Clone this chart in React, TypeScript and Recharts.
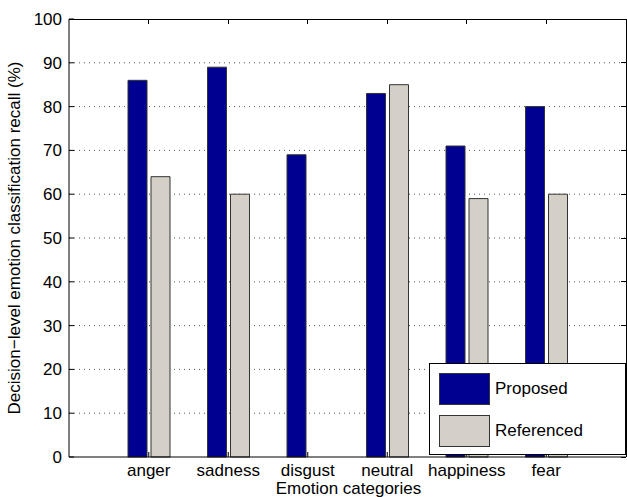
import React from "react";
import { BarChart, Bar, CartesianGrid, XAxis, YAxis } from "recharts";

const categories = ["anger", "sadness", "disgust", "neutral", "happiness", "fear"];
const proposed = [86, 89, 69, 83, 71, 80];
const referenced = [64, 60, 0, 85, 59, 60];
const yTicks = [0, 10, 20, 30, 40, 50, 60, 70, 80, 90, 100];
const seriesNames = ["Proposed", "Referenced"];

const data = categories.map((c, i) => ({
  category: c,
  proposed: proposed[i],
  referenced: referenced[i],
}));

const FONT = "'Liberation Sans', Arial, sans-serif";
const FS = 17;
const BLUE = "#000090";
const GRAY = "#D4D0C8";
const colors = [BLUE, GRAY];

// plot area (same numbers as the chart margins / axis sizes below)
const W = 627;
const H = 497;
const M = { top: 19, right: 1, left: 14, bottom: 0 };
const Y_AXIS_W = 55;
const X_AXIS_H = 40;
const X_PAD = 40;
const plotL = M.left + Y_AXIS_W;
const plotR = W - M.right;
const plotT = M.top;
const plotB = H - M.bottom - X_AXIS_H;

// top and right edges of the MATLAB box, with inward ticks (plain divs)
const Frame = () => {
  const band = (plotR - plotL - 2 * X_PAD) / categories.length;
  return (
    <div style={{ position: "absolute", left: 0, top: 0, width: W, height: H, pointerEvents: "none" }}>
      <div
        style={{
          position: "absolute",
          left: plotL,
          top: plotT - 0.5,
          width: plotR - plotL + 0.5,
          height: plotB - plotT + 0.5,
          borderTop: "1px solid #000",
          borderRight: "1px solid #000",
          boxSizing: "border-box",
        }}
      />
      {categories.map((c, i) => (
        <div
          key={c}
          style={{
            position: "absolute",
            left: plotL + X_PAD + band * (i + 0.5) - 0.5,
            top: plotT,
            width: 1,
            height: 5,
            background: "#000",
          }}
        />
      ))}
      {yTicks.map((v) => (
        <div
          key={v}
          style={{
            position: "absolute",
            left: plotR - 5,
            top: plotB - ((plotB - plotT) * v) / 100 - 0.5,
            width: 5,
            height: 1,
            background: "#000",
          }}
        />
      ))}
    </div>
  );
};

// MATLAB style legend box sitting over the lower right of the plot
const LegendBox = () => (
  <div
    style={{
      position: "absolute",
      left: 429,
      top: 363,
      width: 197,
      height: 92,
      border: "1px solid #000",
      background: "#fff",
      fontFamily: FONT,
      fontSize: FS,
      color: "#000",
      boxSizing: "border-box",
    }}
  >
    {seriesNames.map((name, i) => (
      <div
        key={name}
        style={{ position: "absolute", left: 9, top: 9 + i * 42, display: "flex", alignItems: "center" }}
      >
        <div
          style={{
            width: 51,
            height: 32,
            background: colors[i],
            border: "1px solid #333",
            boxSizing: "border-box",
          }}
        />
        <span style={{ marginLeft: 5 }}>{name}</span>
      </div>
    ))}
  </div>
);

const App = () => {
  return (
    <div style={{ position: "fixed", left: 0, top: 0, width: W, height: H, background: "#fff" }}>
      <BarChart width={W} height={H} data={data} margin={M} barSize={19} barGap={4}>
        <CartesianGrid
          vertical={false}
          horizontal
          stroke="#555"
          strokeDasharray="1 4"
          horizontalValues={[10, 20, 30, 40, 50, 60, 70, 80, 90]}
        />
        <XAxis
          dataKey="category"
          padding={{ left: X_PAD, right: X_PAD }}
          tickSize={-5}
          tickMargin={12}
          axisLine={{ stroke: "#000" }}
          tickLine={{ stroke: "#000" }}
          tick={{ fill: "#000", fontSize: FS, fontFamily: FONT }}
          height={X_AXIS_H}
          interval={0}
          label={{
            content: ({ viewBox }: any) => (
              <text
                x={viewBox.x + viewBox.width / 2 + 1}
                y={488}
                textAnchor="middle"
                dominantBaseline="central"
                fontSize={FS}
                fontFamily={FONT}
                fill="#000"
              >
                Emotion categories
              </text>
            ),
          }}
        />
        <YAxis
          domain={[0, 100]}
          ticks={yTicks}
          width={Y_AXIS_W}
          tickSize={-5}
          tickMargin={12}
          axisLine={{ stroke: "#000" }}
          tickLine={{ stroke: "#000" }}
          tick={{ fill: "#000", fontSize: FS, fontFamily: FONT }}
          interval={0}
          label={{
            content: ({ viewBox }: any) => {
              const cy = viewBox.y + viewBox.height / 2;
              return (
                <text
                  x={14}
                  y={cy}
                  textAnchor="middle"
                  dominantBaseline="central"
                  fontSize={FS}
                  fontFamily={FONT}
                  fill="#000"
                  transform={`rotate(-90, 14, ${cy})`}
                >
                  Decision−level emotion classification recall (%)
                </text>
              );
            },
          }}
        />
        <Bar
          dataKey="proposed"
          name="Proposed"
          fill={BLUE}
          stroke="#333"
          strokeWidth={1}
          isAnimationActive={false}
        />
        <Bar
          dataKey="referenced"
          name="Referenced"
          fill={GRAY}
          stroke="#333"
          strokeWidth={1}
          isAnimationActive={false}
        />
      </BarChart>
      <Frame />
      <LegendBox />
    </div>
  );
};

export default App;
